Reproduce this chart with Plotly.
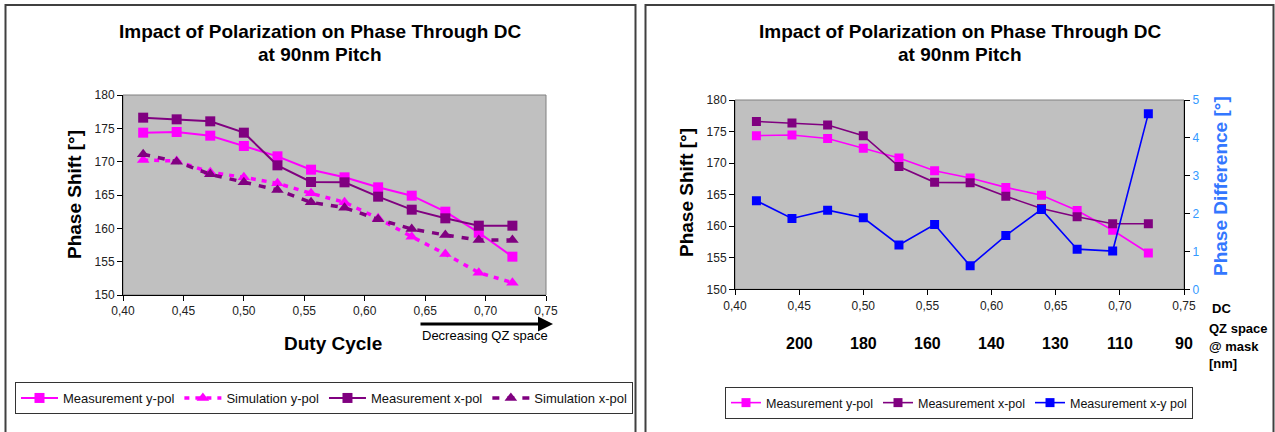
import plotly.graph_objects as go

# ---------------- data ----------------
duty_cycle = [0.4167, 0.4444, 0.4722, 0.5000, 0.5278, 0.5556, 0.5833, 0.6111, 0.6389, 0.6667, 0.6944, 0.7222]
meas_y_pol = [174.35, 174.45, 173.9, 172.35, 170.8, 168.8, 167.65, 166.15, 164.9, 162.5, 159.35, 155.75]
meas_x_pol = [176.6, 176.35, 176.05, 174.35, 169.45, 166.95, 166.9, 164.75, 162.8, 161.5, 160.4, 160.4]
sim_y_pol = [170.25, 170.1, 168.4, 167.65, 166.75, 165.25, 163.9, 161.5, 158.75, 156.15, 153.35, 151.85]
sim_x_pol = [171.1, 170.0, 168.1, 166.9, 165.75, 163.9, 163.1, 161.35, 159.9, 159.0, 158.25, 158.25]
phase_diff = [2.34, 1.87, 2.09, 1.89, 1.17, 1.71, 0.62, 1.42, 2.11, 1.06, 1.01, 4.64]

qz_positions = [0.45, 0.50, 0.55, 0.60, 0.65, 0.70, 0.75]
qz_labels = ["200", "180", "160", "140", "130", "110", "90"]

title_text = ["Impact of Polarization on Phase Through DC", "at 90nm Pitch"]

# ---------------- helpers ----------------
W, H = 1275, 432
FONT = "Arial, Liberation Sans, sans-serif"
MAG = "#FF00FF"
PUR = "#800080"
BLU = "#0000FF"
AXBLUE = "#3377FF"


def px(x):
    return x / W


def py(y):
    return 1 - y / H


fig = go.Figure()

# left chart
fig.add_trace(go.Scatter(x=duty_cycle, y=meas_y_pol, name="Measurement y-pol", mode="lines+markers",
                         line=dict(color=MAG, width=2), marker=dict(symbol="square", size=10, color=MAG),
                         xaxis="x", yaxis="y", legend="legend"))
fig.add_trace(go.Scatter(x=duty_cycle, y=sim_y_pol, name="Simulation y-pol", mode="lines+markers",
                         line=dict(color=MAG, width=3.5, dash="5px,6px"),
                         marker=dict(symbol="triangle-up", size=11, color=MAG),
                         xaxis="x", yaxis="y", legend="legend"))
fig.add_trace(go.Scatter(x=duty_cycle, y=meas_x_pol, name="Measurement x-pol", mode="lines+markers",
                         line=dict(color=PUR, width=2), marker=dict(symbol="square", size=10, color=PUR),
                         xaxis="x", yaxis="y", legend="legend"))
fig.add_trace(go.Scatter(x=duty_cycle, y=sim_x_pol, name="Simulation x-pol", mode="lines+markers",
                         line=dict(color=PUR, width=3.5, dash="7px,8px"),
                         marker=dict(symbol="triangle-up", size=11, color=PUR),
                         xaxis="x", yaxis="y", legend="legend"))

# right chart
fig.add_trace(go.Scatter(x=duty_cycle, y=meas_y_pol, name="Measurement y-pol", mode="lines+markers",
                         line=dict(color=MAG, width=1.6), marker=dict(symbol="square", size=9, color=MAG),
                         xaxis="x2", yaxis="y2", legend="legend2"))
fig.add_trace(go.Scatter(x=duty_cycle, y=meas_x_pol, name="Measurement x-pol", mode="lines+markers",
                         line=dict(color=PUR, width=1.6), marker=dict(symbol="square", size=9, color=PUR),
                         xaxis="x2", yaxis="y2", legend="legend2"))
fig.add_trace(go.Scatter(x=duty_cycle, y=phase_diff, name="Measurement x-y pol", mode="lines+markers",
                         line=dict(color=BLU, width=1.6), marker=dict(symbol="square", size=9, color=BLU),
                         xaxis="x2", yaxis="y3", legend="legend2"))

xcommon = dict(range=[0.40, 0.75], tick0=0.40, dtick=0.05, tickformat=".2f", showline=True,
               linecolor="black", linewidth=1, ticks="outside", ticklen=5, tickcolor="black",
               showgrid=False, zeroline=False, automargin=False,
               tickfont=dict(family=FONT, size=12, color="#222"))
ycommon = dict(range=[150, 180], tick0=150, dtick=5, showline=True, linecolor="black", linewidth=1,
               ticks="outside", ticklen=5, tickcolor="black", showgrid=False, zeroline=False,
               automargin=False, tickfont=dict(family=FONT, size=12, color="#222"))

legend_common = dict(orientation="h", bordercolor="#333", borderwidth=1, bgcolor="white",
                     font=dict(family=FONT, color="#111"),
                     xanchor="left", yanchor="top")

fig.update_layout(
    width=W, height=H, autosize=False,
    margin=dict(l=0, r=0, t=0, b=0, pad=0, autoexpand=False),
    paper_bgcolor="white", plot_bgcolor="#C0C0C0",
    separators=",.",
    font=dict(family=FONT),
    hovermode=False,
    xaxis=dict(domain=[px(123), px(546)], anchor="y", **xcommon),
    yaxis=dict(domain=[py(295), py(95)], anchor="x", **ycommon),
    xaxis2=dict(domain=[px(735), px(1184)], anchor="y2", **xcommon),
    yaxis2=dict(domain=[py(289.3), py(100)], anchor="x2", **ycommon),
    yaxis3=dict(range=[0, 5], tick0=0, dtick=1, overlaying="y2", side="right", anchor="x2",
                showline=True, linecolor="black", linewidth=1, ticks="outside", ticklen=5,
                tickcolor="black", showgrid=False, zeroline=False, automargin=False,
                tickfont=dict(family=FONT, size=12, color="#3399FF")),
    legend=dict(x=px(15), y=py(382), itemwidth=37, **legend_common),
    legend2=dict(x=px(725), y=py(387), itemwidth=30, **legend_common),
)
fig.layout.legend.font.size = 13
fig.layout.legend2.font.size = 12.5

shapes = [
    # chart frames
    dict(type="rect", xref="paper", yref="paper", x0=px(5.5), x1=px(635.5), y0=-0.2, y1=py(5),
         line=dict(color="#404040", width=2)),
    dict(type="rect", xref="paper", yref="paper", x0=px(645.5), x1=px(1273.5), y0=-0.2, y1=py(5),
         line=dict(color="#404040", width=2)),
    # gray plot area borders
    dict(type="rect", xref="x domain", yref="y domain", x0=0, x1=1, y0=0, y1=1,
         line=dict(color="#808080", width=1), layer="below"),
    dict(type="rect", xref="x2 domain", yref="y2 domain", x0=0, x1=1, y0=0, y1=1,
         line=dict(color="#808080", width=1), layer="below"),
]
fig.update_layout(shapes=shapes)


def label(x, y, text, size, color="black", xref="paper", xanchor="center", angle=0):
    return dict(x=x, y=y, xref=xref, yref="paper", text=text, showarrow=False, textangle=angle,
                xanchor=xanchor, yanchor="middle", font=dict(family=FONT, size=size, color=color))


ann = []
for cx in (320, 960):
    ann.append(label(px(cx), py(31), "<b>%s</b>" % title_text[0], 19))
    ann.append(label(px(cx), py(54), "<b>%s</b>" % title_text[1], 19))

# axis titles
ann.append(label(px(75), py(195), "<b>Phase Shift [°]</b>", 19, angle=-90))
ann.append(label(px(333), py(343), "<b>Duty Cycle</b>", 19))
ann.append(label(px(686), py(193), "<b>Phase Shift [°]</b>", 19, angle=-90))
ann.append(label(px(1220), py(186), "<b>Phase Difference [°]</b>", 19, color=AXBLUE, angle=-90))

# decreasing QZ arrow
ann.append(dict(x=px(553), y=py(324), xref="paper", yref="paper", ax=-134, ay=0, text="",
                showarrow=True, arrowhead=2, arrowsize=1, arrowwidth=3, arrowcolor="black"))
ann.append(label(px(485), py(335), "Decreasing QZ space", 13))

# DC / QZ labels on right chart
ann.append(label(px(1221), py(308), "<b>DC</b>", 13))
for pos, lab in zip(qz_positions, qz_labels):
    ann.append(label(pos, py(343), "<b>%s</b>" % lab, 16, xref="x2"))
for txt, yy in (("QZ space", 328), ("@ mask", 346), ("[nm]", 363)):
    ann.append(label(px(1207), py(yy), "<b>%s</b>" % txt, 13, xanchor="left"))

fig.update_layout(annotations=ann)

fig.write_html("out.html", config={"displayModeBar": False},
               post_script="document.body.style.margin='0px';")
